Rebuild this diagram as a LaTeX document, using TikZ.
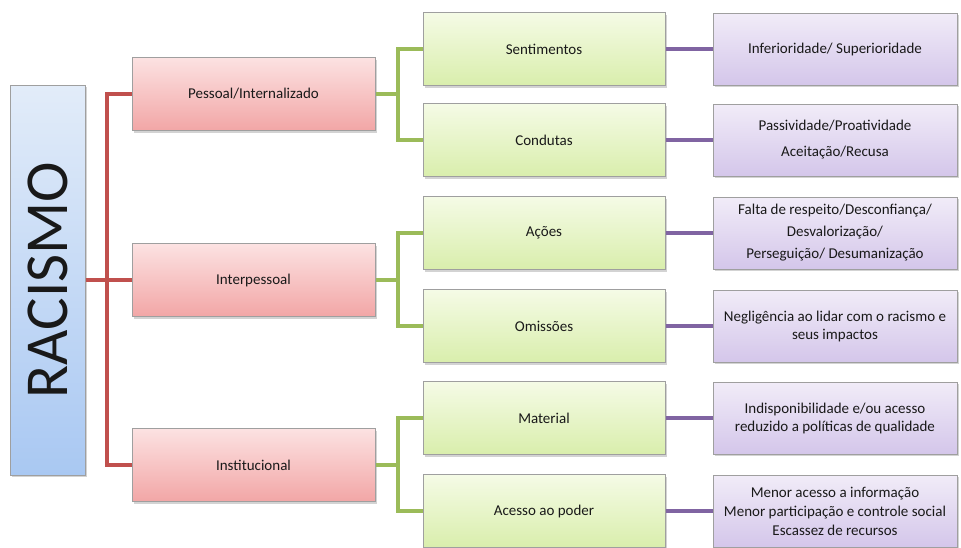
\documentclass[tikz,border=0pt]{standalone}
\usepackage{fontspec}
\setmainfont{Carlito}
\usetikzlibrary{shadows,positioning}
\definecolor{redln}{HTML}{C0504D}
\definecolor{greenln}{HTML}{9BBB59}
\definecolor{purpleln}{HTML}{8064A2}
\definecolor{pinktop}{HTML}{FCE2E2}
\definecolor{pinkbot}{HTML}{F2A6A6}
\definecolor{greentop}{HTML}{F5FBE6}
\definecolor{greenbot}{HTML}{D9EEAC}
\definecolor{purpletop}{HTML}{F1ECF8}
\definecolor{purplebot}{HTML}{D4C6EA}
\definecolor{bluetop}{HTML}{E2ECF9}
\definecolor{bluebot}{HTML}{A9C8F2}

\begin{document}
\begin{tikzpicture}[x=1pt,y=-1pt]
		\tikzstyle{box} = [draw=gray!75,line width=1pt,font=\fontsize{15}{18}\selectfont,text=black!90,align=center,inner sep=1pt,
			drop shadow={opacity=0.35,shadow xshift=1.5pt,shadow yshift=-2pt}]
		\tikzstyle{rootbox} = [box,top color=bluetop,bottom color=bluebot,minimum width=75pt,minimum height=390pt]
		\tikzstyle{lvlone} = [box,top color=pinktop,bottom color=pinkbot,minimum width=243pt,minimum height=73pt]
		\tikzstyle{lvltwo} = [box,top color=greentop,bottom color=greenbot,minimum width=242pt,minimum height=73pt]
		\tikzstyle{lvlthree} = [box,top color=purpletop,bottom color=purplebot,minimum width=244pt,minimum height=72pt]
		\tikzstyle{redlink} = [draw=redln,line width=3.5pt]
		\tikzstyle{greenlink} = [draw=greenln,line width=3.5pt]
		\tikzstyle{purplelink} = [draw=purpleln,line width=3.5pt]
		\useasboundingbox (0,0) rectangle (961,547);
		% Root
		\node[rootbox] (l0) at (47.5,280) {};
		\node[rotate=90,font=\fontsize{61}{64}\selectfont,text=black!90] (l0txt) at (l0.center) {RACISMO};
		% Level 1
		\node[lvlone] (l1_1) at (253.5,94) {Pessoal/Internalizado};
		\node[lvlone] (l1_2) at (253.5,280) {Interpessoal};
		\node[lvlone] (l1_3) at (253.5,465) {Institucional};
		% Level 2
		\node[lvltwo] (l2_1) at (544,49) {Sentimentos};
		\node[lvltwo] (l2_2) at (544,140) {Condutas};
		\node[lvltwo] (l2_3) at (544,233) {Ações};
		\node[lvltwo] (l2_4) at (544,326) {Omissões};
		\node[lvltwo] (l2_5) at (544,418) {Material};
		\node[lvltwo] (l2_6) at (544,511) {Acesso ao poder};
		% Level 3
		\node[lvlthree] (l3_1) at (835,49) {Inferioridade/ Superioridade};
		\node[lvlthree] (l3_2) at (835,140) {Passividade/Proatividade\\[8pt]Aceitação/Recusa};
		\node[lvlthree] (l3_3) at (835,233) {Falta de respeito/Desconfiança/\\[4pt]Desvalorização/\\[4pt]Perseguição/ Desumanização};
		\node[lvlthree] (l3_4) at (835,326) {Negligência ao lidar com o racismo e\\seus impactos};
		\node[lvlthree] (l3_5) at (835,418) {Indisponibilidade e/ou acesso\\reduzido a políticas de qualidade};
		\node[lvlthree] (l3_6) at (835,511) {Menor acesso a informação\\[1pt]Menor participação e controle social\\[1pt]Escassez de recursos};
		% Junctions
		\coordinate (j0) at (107,280);
		\coordinate (j1) at (398,94);
		\coordinate (j2) at (398,280);
		\coordinate (j3) at (398,465);
		% Root to level 1
		\draw[redlink] (l0.east) -- (j0);
		\draw[redlink] (j0) |- (l1_1.west);
		\draw[redlink] (j0) |- (l1_3.west);
		\draw[redlink] (j0) -- (l1_2.west);
		% Level 1 to level 2
		\draw[greenlink] (l1_1.east) -- (j1);
		\draw[greenlink] (j1) |- (l2_1.west);
		\draw[greenlink] (j1) |- (l2_2.west);
		\draw[greenlink] (l1_2.east) -- (j2);
		\draw[greenlink] (j2) |- (l2_3.west);
		\draw[greenlink] (j2) |- (l2_4.west);
		\draw[greenlink] (l1_3.east) -- (j3);
		\draw[greenlink] (j3) |- (l2_5.west);
		\draw[greenlink] (j3) |- (l2_6.west);
		% Level 2 to level 3
		\draw[purplelink] (l2_1.east) -- (l3_1.west);
		\draw[purplelink] (l2_2.east) -- (l3_2.west);
		\draw[purplelink] (l2_3.east) -- (l3_3.west);
		\draw[purplelink] (l2_4.east) -- (l3_4.west);
		\draw[purplelink] (l2_5.east) -- (l3_5.west);
		\draw[purplelink] (l2_6.east) -- (l3_6.west);
\end{tikzpicture}
\end{document}
